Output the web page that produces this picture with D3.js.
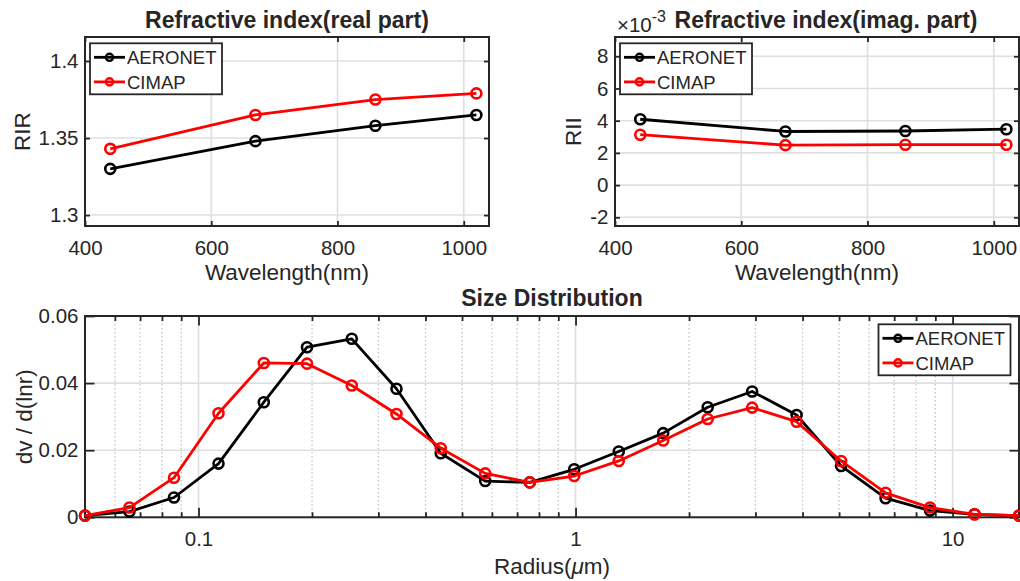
<!DOCTYPE html>
<html><head><meta charset="utf-8">
<script src="https://cdn.jsdelivr.net/npm/d3@7/dist/d3.min.js"></script>
<style>
body{margin:0;background:#fff}
svg text{font-family:"Liberation Sans",Arial,Helvetica,sans-serif;fill:#262626}
</style>
</head><body>
<svg id="c" width="1020" height="581"></svg>
<script>
// ---------------- data ----------------
const seriesNames = ["AERONET", "CIMAP"];
const seriesColors = ["#000000", "#ff0000"];

const wavelengths = [440, 670, 860, 1020];
const rirAeronet = [1.330, 1.348, 1.358, 1.365];
const rirCimap   = [1.343, 1.365, 1.375, 1.379];
const riiAeronet = [4.09, 3.33, 3.36, 3.47];   // x 10^-3
const riiCimap   = [3.13, 2.48, 2.51, 2.51];   // x 10^-3

const radii = [0.050, 0.0656, 0.0861, 0.113, 0.149, 0.194, 0.255, 0.335, 0.439, 0.576, 0.756,
               0.992, 1.302, 1.708, 2.241, 2.940, 3.857, 5.061, 6.641, 8.713, 11.432, 15.0];
const sdAeronet = [0.0005, 0.0017, 0.0059, 0.0160, 0.0343, 0.0507, 0.0532, 0.0383, 0.0191, 0.0108, 0.0104,
                   0.0143, 0.0196, 0.0251, 0.0328, 0.0375, 0.0305, 0.0153, 0.0057, 0.0020, 0.0009, 0.0005];
const sdCimap   = [0.0005, 0.0029, 0.0118, 0.0310, 0.0460, 0.0458, 0.0393, 0.0308, 0.0206, 0.0131, 0.0104,
                   0.0123, 0.0168, 0.0229, 0.0293, 0.0327, 0.0285, 0.0168, 0.0073, 0.0029, 0.0009, 0.0005];

const wlTicks = [400, 600, 800, 1000];
const rirTicks = [1.3, 1.35, 1.4];
const rirTickLabels = ["1.3", "1.35", "1.4"];
const riiTicks = [-2, 0, 2, 4, 6, 8];
const riiTickLabels = ["-2", "0", "2", "4", "6", "8"];
const sdTicks = [0, 0.02, 0.04, 0.06];
const sdTickLabels = ["0", "0.02", "0.04", "0.06"];
const radiusTicks = [0.1, 1, 10];
const radiusTickLabels = ["0.1", "1", "10"];
const radiusMinorTicks = [0.06, 0.07, 0.08, 0.09, 0.2, 0.3, 0.4, 0.5, 0.6, 0.7, 0.8, 0.9,
                          2, 3, 4, 5, 6, 7, 8, 9];

// ---------------- drawing ----------------
const svg = d3.select("#c");
const AX = "#262626";
const GRID = "#dfdfdf";
const MINOR = "#c4c4c4";
const LW = 2.8;

function panel(cfg) {
  const {L, R, T, B, x, y} = cfg;
  const g = svg.append("g");
  // minor grid
  if (cfg.xMinor) {
    g.selectAll(".mg").data(cfg.xMinor).join("line")
      .attr("x1", d => x(d)).attr("x2", d => x(d)).attr("y1", T).attr("y2", B)
      .attr("stroke", MINOR).attr("stroke-width", 1.3).attr("stroke-dasharray", "1.5,2.5");
  }
  // major grids
  g.selectAll(".gx").data(cfg.xTicks).join("line")
    .attr("x1", d => x(d)).attr("x2", d => x(d)).attr("y1", T).attr("y2", B)
    .attr("stroke", GRID).attr("stroke-width", 1.6);
  g.selectAll(".gy").data(cfg.yTicks).join("line")
    .attr("x1", L).attr("x2", R).attr("y1", d => y(d)).attr("y2", d => y(d))
    .attr("stroke", GRID).attr("stroke-width", 1.6);

  // axes (ticks inward)
  const tl = cfg.tickLen;
  const mk = (axisFn, scale, vals, fmt, transform, showLabels, pad) => {
    const a = axisFn(scale).tickValues(vals).tickSize(-tl).tickPadding(pad || 0)
      .tickFormat((d, i) => showLabels ? fmt[i] : "");
    const ag = g.append("g").attr("transform", transform).call(a);
    ag.select(".domain").remove();
    ag.selectAll(".tick line").attr("stroke", AX).attr("stroke-width", 1.8);
    ag.selectAll("text").style("font-size", "20.5px").attr("fill", AX);
    return ag;
  };
  mk(d3.axisBottom, x, cfg.xTicks, cfg.xLabels, `translate(0,${B})`, true, 14);
  mk(d3.axisTop, x, cfg.xTicks, cfg.xLabels, `translate(0,${T})`, false);
  mk(d3.axisLeft, y, cfg.yTicks, cfg.yLabels, `translate(${L},0)`, true, 6.5);
  mk(d3.axisRight, y, cfg.yTicks, cfg.yLabels, `translate(${R},0)`, false);
  if (cfg.xMinor) {
    const ml = cfg.minorLen;
    [[d3.axisBottom, B], [d3.axisTop, T]].forEach(([fn, yy]) => {
      const ag = g.append("g").attr("transform", `translate(0,${yy})`)
        .call(fn(x).tickValues(cfg.xMinor).tickSize(-ml).tickFormat(""));
      ag.select(".domain").remove();
      ag.selectAll(".tick line").attr("stroke", AX).attr("stroke-width", 1.8);
    });
  }
  // box
  g.append("rect").attr("x", L).attr("y", T).attr("width", R - L).attr("height", B - T)
    .attr("fill", "none").attr("stroke", AX).attr("stroke-width", 2);

  // series
  const line = d3.line().x(d => x(d[0])).y(d => y(d[1]));
  cfg.series.forEach((vals, si) => {
    const pts = cfg.xs.map((xv, i) => [xv, vals[i]]);
    g.append("path").datum(pts).attr("d", line).attr("fill", "none")
      .attr("stroke", seriesColors[si]).attr("stroke-width", LW).attr("stroke-linejoin", "round");
    g.selectAll(null).data(pts).join("circle")
      .attr("cx", d => x(d[0])).attr("cy", d => y(d[1])).attr("r", 5)
      .attr("fill", "none").attr("stroke", seriesColors[si]).attr("stroke-width", 2.6);
  });

  // legend
  const lg = cfg.legend;
  const lgG = g.append("g").attr("transform", `translate(${lg[0]},${lg[1]})`);
  lgG.append("rect").attr("width", 132).attr("height", 51).attr("fill", "#fff")
    .attr("stroke", AX).attr("stroke-width", 1.8);
  seriesNames.forEach((nm, i) => {
    const yy = 14 + i * 24.6;
    lgG.append("line").attr("x1", 4).attr("x2", 35).attr("y1", yy).attr("y2", yy)
      .attr("stroke", seriesColors[i]).attr("stroke-width", LW);
    lgG.append("circle").attr("cx", 19.5).attr("cy", yy).attr("r", 3.6)
      .attr("fill", "none").attr("stroke", seriesColors[i]).attr("stroke-width", 2.4);
    lgG.append("text").attr("x", 37).attr("y", yy).attr("dy", "0.36em")
      .style("font-size", "18.5px").attr("fill", "#000").text(nm);
  });

  // title
  g.append("text").attr("x", cfg.titleX).attr("y", cfg.titleY).attr("text-anchor", "middle")
    .style("font-size", "23px").style("font-weight", "bold").attr("fill", "#000").text(cfg.title);
  // x label
  const xl = g.append("text").attr("x", (L + R) / 2).attr("y", cfg.xLabelY).attr("text-anchor", "middle")
    .style("font-size", "22.5px").attr("fill", AX);
  cfg.xLabelParts.forEach(p => {
    const t = xl.append("tspan").text(p.t);
    if (p.italic) t.style("font-style", "italic");
  });
  // y label
  g.append("text").attr("transform", `translate(${cfg.yLabelX},${(T + B) / 2}) rotate(-90)`)
    .attr("text-anchor", "middle").style("font-size", "22.5px").attr("fill", AX).text(cfg.yLabel);
  return g;
}

// Panel 1: real part
panel({
  L: 85, R: 489, T: 37, B: 226,
  x: d3.scaleLinear().domain([400, 1040]).range([85, 489]),
  y: d3.scaleLinear().domain([1.2929, 1.4156]).range([226, 37]),
  xTicks: wlTicks, xLabels: wlTicks.map(String),
  yTicks: rirTicks, yLabels: rirTickLabels,
  tickLen: 5,
  xs: wavelengths, series: [rirAeronet, rirCimap],
  legend: [90, 43.3],
  title: "Refractive index(real part)", titleX: 287, titleY: 28,
  xLabelParts: [{t: "Wavelength(nm)"}], xLabelY: 280,
  yLabel: "RIR", yLabelX: 30
});

// Panel 2: imaginary part
const p2 = panel({
  L: 615, R: 1019, T: 37, B: 226,
  x: d3.scaleLinear().domain([400, 1040]).range([615, 1019]),
  y: d3.scaleLinear().domain([-2.54, 9.197]).range([226, 37]),
  xTicks: wlTicks, xLabels: wlTicks.map(String),
  yTicks: riiTicks, yLabels: riiTickLabels,
  tickLen: 5,
  xs: wavelengths, series: [riiAeronet, riiCimap],
  legend: [620, 43.3],
  title: "Refractive index(imag. part)", titleX: 826, titleY: 28,
  xLabelParts: [{t: "Wavelength(nm)"}], xLabelY: 280,
  yLabel: "RII", yLabelX: 581
});
const ex = p2.append("text").attr("x", 617).attr("y", 31.7).style("font-size", "20.5px").attr("fill", AX);
ex.append("tspan").text("\u00d710");
ex.append("tspan").attr("dy", -10).style("font-size", "16px").text("-3");

// Panel 3: size distribution
panel({
  L: 85, R: 1019, T: 316, B: 517.3,
  x: d3.scaleLog().domain([0.05, 15]).range([85, 1019]),
  y: d3.scaleLinear().domain([0, 0.06]).range([517.3, 316]),
  xTicks: radiusTicks, xLabels: radiusTickLabels, xMinor: radiusMinorTicks,
  yTicks: sdTicks, yLabels: sdTickLabels,
  tickLen: 9.5, minorLen: 5,
  xs: radii, series: [sdAeronet, sdCimap],
  legend: [878.5, 324.3],
  title: "Size Distribution", titleX: 552, titleY: 306,
  xLabelParts: [{t: "Radius("}, {t: "\u03bc", italic: true}, {t: "m)"}], xLabelY: 574,
  yLabel: "dv / d(lnr)", yLabelX: 32
});
</script>
</body></html>
